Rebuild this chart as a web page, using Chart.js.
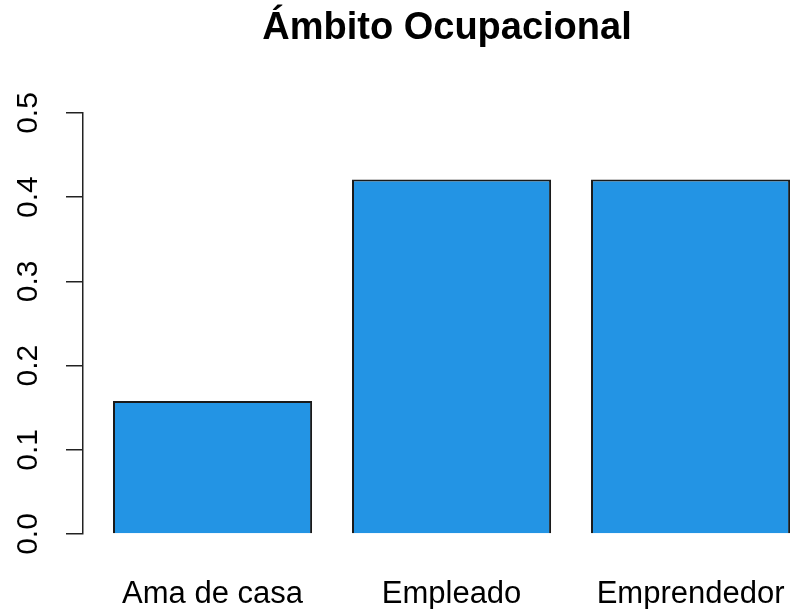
<!DOCTYPE html>
<html>
<head>
<meta charset="utf-8">
<script src="https://cdn.jsdelivr.net/npm/chart.js@4"></script>
<style>
  html, body { margin: 0; padding: 0; background: #fff; overflow: hidden; }
  #wrap { width: 790px; height: 609px; }
</style>
</head>
<body>
<div id="wrap"><canvas id="chart" width="790" height="609"></canvas></div>
<script>
const categories = ['Ama de casa', 'Empleado', 'Emprendedor'];
const values = [0.158, 0.421, 0.421];
const yTicks = [0.0, 0.1, 0.2, 0.3, 0.4, 0.5];
const titleText = 'Ámbito Ocupacional';

const FONT = "'Liberation Sans', Arial, sans-serif";

// title and y tick labels are placed like the R original, so draw them by hand
const rLabels = {
    id: 'rLabels',
    afterDraw(chart) {
        const ctx = chart.ctx;
        const y = chart.scales.y;
        ctx.save();
        ctx.fillStyle = '#000';

        ctx.font = 'bold 38px ' + FONT;
        ctx.textAlign = 'center';
        ctx.textBaseline = 'alphabetic';
        ctx.fillText(titleText, 447, 39);

        ctx.font = '30px ' + FONT;
        ctx.textBaseline = 'middle';
        yTicks.forEach(v => {
            ctx.save();
            ctx.translate(29, y.getPixelForValue(v));
            ctx.rotate(-Math.PI / 2);
            ctx.fillText(v.toFixed(1), 0, 0);
            ctx.restore();
        });
        ctx.restore();
    }
};

new Chart(document.getElementById('chart'), {
    type: 'bar',
    data: {
        datasets: [{
            data: values.map((v, i) => ({ x: i, y: v })),
            backgroundColor: '#2394e4',
            borderColor: '#1a1a1a',
            borderWidth: 2,
            barPercentage: 0.833,
            categoryPercentage: 1
        }]
    },
    options: {
        responsive: false,
        animation: false,
        layout: { padding: { top: 113, left: 0, right: 0, bottom: 0 } },
        scales: {
            x: {
                type: 'linear',
                offset: false,
                min: -0.542,
                max: 2.416,
                grid: { display: false, drawTicks: false, offset: false },
                border: { display: false },
                afterBuildTicks: s => { s.ticks = categories.map((c, i) => ({ value: i })); },
                afterFit: s => { s.height = 75; s.paddingLeft = 0; s.paddingRight = 0; },
                ticks: {
                    autoSkip: false,
                    maxRotation: 0,
                    padding: 42,
                    color: '#000',
                    font: { family: FONT, size: 31 },
                    callback: v => categories[v]
                }
            },
            y: {
                min: 0,
                max: 0.5,
                afterBuildTicks: s => { s.ticks = yTicks.map(v => ({ value: v })); },
                afterFit: s => { s.width = 83; s.paddingTop = 0; s.paddingBottom = 0; },
                grid: { display: true, drawOnChartArea: false, drawTicks: true, tickLength: 17, color: '#222', lineWidth: 1.5 },
                border: { display: true, color: '#222', width: 1.5 },
                ticks: { display: false }
            }
        },
        plugins: {
            legend: { display: false },
            tooltip: { enabled: false },
            title: { display: false }
        }
    },
    plugins: [rLabels]
});
</script>
</body>
</html>
